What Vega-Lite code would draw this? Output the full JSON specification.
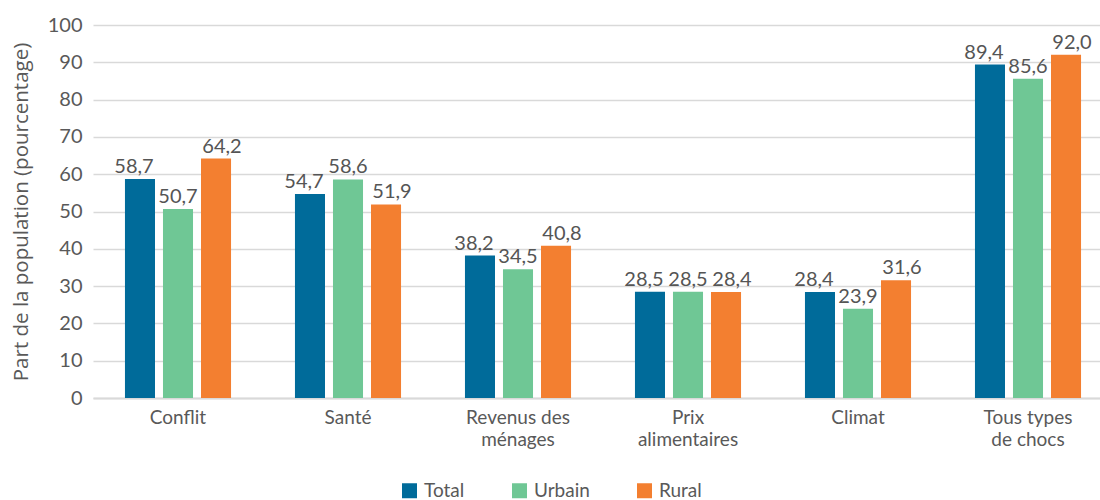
{
  "$schema": "https://vega.github.io/schema/vega-lite/v6.json",
  "width": 1020,
  "height": 373,
  "autosize": "none",
  "padding": {"left": 93, "top": 25, "right": 0, "bottom": 102},
  "config": {
    "locale": {"number": {"decimal": ",", "thousands": " ", "grouping": [3], "currency": ["", " €"]}},
    "font": "Lato",
    "view": {"stroke": null}
  },
  "data": {
    "values": [
      {"choc": "Conflit", "milieu": "Total", "valeur": 58.7},
      {"choc": "Conflit", "milieu": "Urbain", "valeur": 50.7},
      {"choc": "Conflit", "milieu": "Rural", "valeur": 64.2},
      {"choc": "Santé", "milieu": "Total", "valeur": 54.7},
      {"choc": "Santé", "milieu": "Urbain", "valeur": 58.6},
      {"choc": "Santé", "milieu": "Rural", "valeur": 51.9},
      {"choc": "Revenus des|ménages", "milieu": "Total", "valeur": 38.2},
      {"choc": "Revenus des|ménages", "milieu": "Urbain", "valeur": 34.5},
      {"choc": "Revenus des|ménages", "milieu": "Rural", "valeur": 40.8},
      {"choc": "Prix|alimentaires", "milieu": "Total", "valeur": 28.5},
      {"choc": "Prix|alimentaires", "milieu": "Urbain", "valeur": 28.5},
      {"choc": "Prix|alimentaires", "milieu": "Rural", "valeur": 28.4},
      {"choc": "Climat", "milieu": "Total", "valeur": 28.4},
      {"choc": "Climat", "milieu": "Urbain", "valeur": 23.9},
      {"choc": "Climat", "milieu": "Rural", "valeur": 31.6},
      {"choc": "Tous types|de chocs", "milieu": "Total", "valeur": 89.4},
      {"choc": "Tous types|de chocs", "milieu": "Urbain", "valeur": 85.6},
      {"choc": "Tous types|de chocs", "milieu": "Rural", "valeur": 92.0}
    ]
  },
  "encoding": {
    "x": {
      "field": "choc",
      "type": "nominal",
      "sort": null,
      "scale": {"paddingInner": 0.376, "paddingOuter": 0.188},
      "axis": {
        "title": null,
        "labelAngle": 0,
        "labelExpr": "split(datum.label, '|')",
        "labelFontSize": 19,
        "labelColor": "#595959",
        "labelLineHeight": 22,
        "labelPadding": 10,
        "labelBaseline": "top",
        "ticks": false,
        "domainColor": "#d9d9d9",
        "domainWidth": 2
      }
    },
    "y": {
      "field": "valeur",
      "type": "quantitative",
      "scale": {"domain": [0, 100], "nice": false},
      "axis": {
        "title": "Part de la population (pourcentage)",
        "titleFont": "Open Sans",
        "titleFontSize": 20.5,
        "titleFontWeight": "normal",
        "titleColor": "#595959",
        "titlePadding": 16,
        "values": [0, 10, 20, 30, 40, 50, 60, 70, 80, 90, 100],
        "labelFontSize": 20,
        "labelColor": "#595959",
        "labelPadding": 11,
        "ticks": false,
        "domain": false,
        "gridColor": "#d9d9d9",
        "gridWidth": 1.5
      }
    }
  },
  "layer": [
    {
      "mark": {"type": "bar"},
      "encoding": {
        "xOffset": {
          "field": "milieu",
          "type": "nominal",
          "sort": ["Total", "Urbain", "Rural"],
          "scale": {"paddingInner": 0.21, "paddingOuter": 0}
        },
        "color": {
          "field": "milieu",
          "type": "nominal",
          "sort": ["Total", "Urbain", "Rural"],
          "scale": {"domain": ["Total", "Urbain", "Rural"], "range": ["#006B9A", "#6FC795", "#F37F30"]},
          "legend": {
            "title": null,
            "orient": "none",
            "direction": "horizontal",
            "legendX": 307,
            "legendY": 456,
            "symbolType": "square",
            "symbolSize": 225,
            "symbolStrokeWidth": 0,
            "labelFontSize": 19,
            "labelColor": "#595959",
            "columnPadding": 45,
            "labelOffset": 5
          }
        }
      }
    },
    {
      "mark": {"type": "text", "baseline": "bottom", "dy": -2, "fontSize": 20, "color": "#555555"},
      "encoding": {
        "xOffset": {
          "field": "milieu",
          "type": "nominal",
          "sort": ["Total", "Urbain", "Rural"],
          "scale": {"type": "point", "padding": 0, "range": [9, 97]}
        },
        "text": {"field": "valeur", "type": "quantitative", "format": ".1f"}
      }
    }
  ],
  "resolve": {"scale": {"xOffset": "independent"}}
}
